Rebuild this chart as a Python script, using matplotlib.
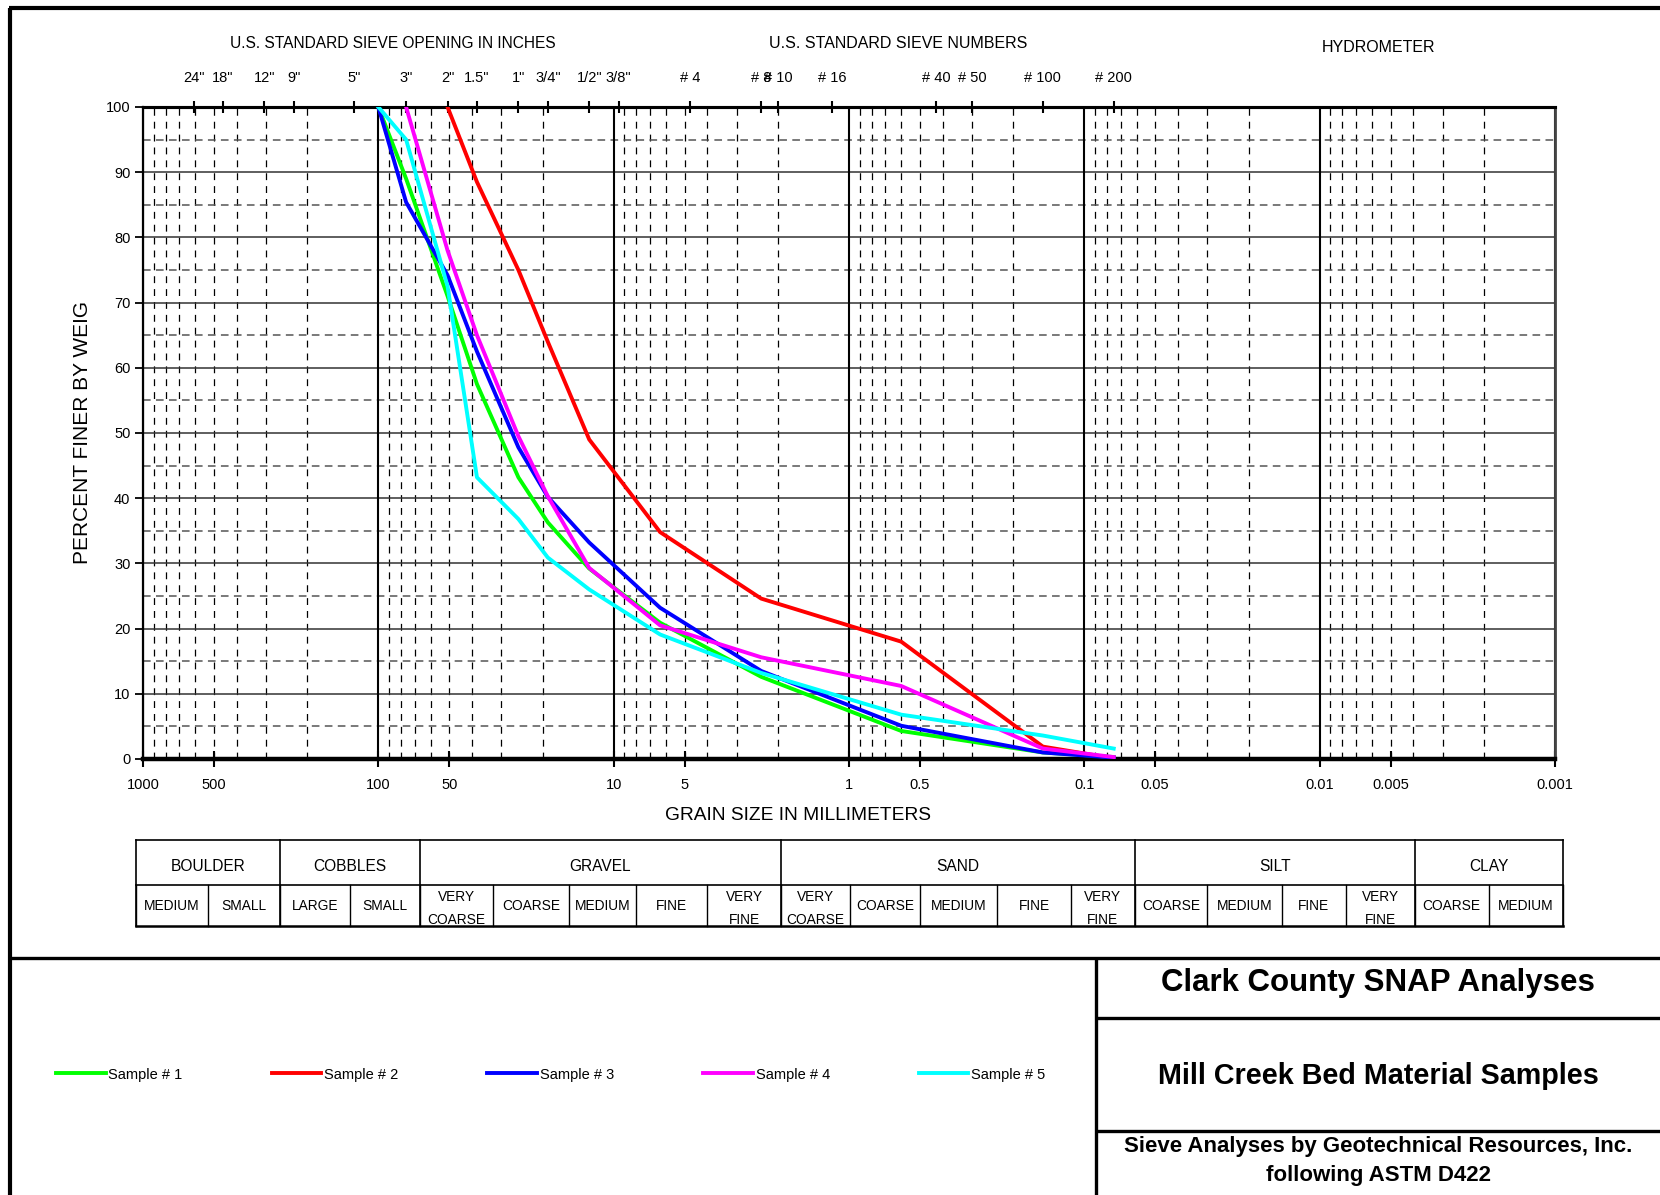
import matplotlib
matplotlib.use('Agg')
import matplotlib.pyplot as plt
from matplotlib.ticker import NullLocator
import numpy as np

plt.rcParams['font.family'] = ['Liberation Sans', 'DejaVu Sans']

# ---- data ----
sizes_mm = [100, 76.2, 50.8, 38.1, 25.4, 19.05, 12.7, 6.35, 2.36, 0.6, 0.15, 0.075]
nan = np.nan
sample_1 = [100, 89, 71, 57.5, 43.2, 36.3, 29.2, 20.9, 12.6, 4.3, 1.0, 0.3]
sample_2 = [nan, nan, 100, 88.5, 75, 64, 49, 34.8, 24.6, 18, 1.9, 0.1]
sample_3 = [100, 85.4, 74.2, 62.5, 47.8, 40.2, 33.2, 23.2, 13.5, 5.1, 1.0, 0.2]
sample_4 = [nan, 100, 78, 65, 49.5, 40.3, 29.3, 20.5, 15.6, 11.2, 1.6, 0.3]
sample_5 = [100, 95, 72.5, 43.2, 36.8, 30.9, 26.0, 19.1, 13.2, 6.8, 3.6, 1.6]
sample_names = ['Sample # 1', 'Sample # 2', 'Sample # 3', 'Sample # 4', 'Sample # 5']

sieve_mm = [609.6, 457.2, 304.8, 228.6, 127, 76.2, 50.8, 38.1, 25.4, 19.05, 12.7, 9.525,
            4.75, 2.36, 2.0, 1.18, 0.425, 0.3, 0.15, 0.075]
sieve_labels = ['24"', '18"', '12"', '9"', '5"', '3"', '2"', '1.5"', '1"', '3/4"', '1/2"', '3/8"',
                '# 4', '# 8', '# 10', '# 16', '# 40', '# 50', '# 100', '# 200']

x_ticks = [1000, 500, 100, 50, 10, 5, 1, 0.5, 0.1, 0.05, 0.01, 0.005, 0.001]
x_tick_labels = ['1000', '500', '100', '50', '10', '5', '1', '0.5', '0.1', '0.05', '0.01', '0.005', '0.001']

class_names = ['BOULDER', 'COBBLES', 'GRAVEL', 'SAND', 'SILT', 'CLAY']
sub_names = ['MEDIUM', 'SMALL', 'LARGE', 'SMALL', 'VERY\nCOARSE', 'COARSE', 'MEDIUM', 'FINE',
             'VERY\nFINE', 'VERY\nCOARSE', 'COARSE', 'MEDIUM', 'FINE', 'VERY\nFINE', 'COARSE',
             'MEDIUM', 'FINE', 'VERY\nFINE', 'COARSE', 'MEDIUM']

# ---- layout (pixels) ----
W, H = 1660, 1195
class_edges = [135.5, 280, 420, 781, 1134.5, 1414.8, 1563]
sub_edges = [135.5, 208, 280, 350, 420, 493, 569, 636, 707, 781, 850, 920, 997, 1071,
             1134.5, 1207, 1282, 1345.6, 1414.8, 1488.5, 1563]
tab_top, tab_mid, tab_bot = 839.5, 885, 926

fig = plt.figure(figsize=(W / 100, H / 100), dpi=100)

# overlay in pixel coords for frame, table and titles
fa = fig.add_axes([0, 0, 1, 1])
fa.set_xlim(0, W)
fa.set_ylim(H, 0)
fa.axis('off')

# frame
fa.plot([9, W], [8, 8], color='k', lw=3, solid_capstyle='butt')
fa.plot([10, 10], [8, H], color='k', lw=3, solid_capstyle='butt')
fa.plot([10, W], [958, 958], color='k', lw=2.4, solid_capstyle='butt')
fa.plot([1096, 1096], [958, H], color='k', lw=2.4, solid_capstyle='butt')
fa.plot([1096, W], [1017.5, 1017.5], color='k', lw=2.4, solid_capstyle='butt')
fa.plot([1096, W], [1130.7, 1130.7], color='k', lw=2.4, solid_capstyle='butt')

# classification table
fa.plot([sub_edges[0], sub_edges[-1]], [tab_top, tab_top], color='k', lw=1.2)
fa.plot([sub_edges[0], sub_edges[-1]], [tab_mid, tab_mid], color='k', lw=1.2)
fa.plot([sub_edges[0], sub_edges[-1]], [tab_bot, tab_bot], color='k', lw=1.8)
for e in class_edges:
    fa.plot([e, e], [tab_top, tab_bot], color='k', lw=1.2)
for e in sub_edges:
    fa.plot([e, e], [tab_mid, tab_bot], color='k', lw=1.0)
for i, name in enumerate(class_names):
    fa.text((class_edges[i] + class_edges[i + 1]) / 2, 866, name, ha='center', va='center', fontsize=11.2)
for i, name in enumerate(sub_names):
    yy = 908.5 if '\n' in name else 906
    fa.text((sub_edges[i] + sub_edges[i + 1]) / 2, yy, name, ha='center', va='center',
            fontsize=9.9, linespacing=1.75)

# headings
fa.text(393, 43.5, 'U.S. STANDARD SIEVE OPENING IN INCHES', ha='center', va='center', fontsize=11.2)
fa.text(898, 43.5, 'U.S. STANDARD SIEVE NUMBERS', ha='center', va='center', fontsize=11.5)
fa.text(1378, 47.5, 'HYDROMETER', ha='center', va='center', fontsize=11.5)
fa.text(82, 432, 'PERCENT FINER BY WEIG', ha='center', va='center', rotation=90, fontsize=15)
fa.text(798, 815, 'GRAIN SIZE IN MILLIMETERS', ha='center', va='center', fontsize=13.8)

# title block
fa.text(1378, 982.5, 'Clark County SNAP Analyses', ha='center', va='center', fontsize=22.5, fontweight='bold')
fa.text(1378, 1075.5, 'Mill Creek Bed Material Samples', ha='center', va='center', fontsize=20.7, fontweight='bold')
fa.text(1378, 1146.5, 'Sieve Analyses by Geotechnical Resources, Inc.', ha='center', va='center',
        fontsize=16, fontweight='bold')
fa.text(1378, 1175, 'following ASTM D422', ha='center', va='center', fontsize=16, fontweight='bold')

# ---- main chart ----
ax = fig.add_axes([143 / W, 1 - 759 / H, (1555 - 143) / W, (759 - 107) / H])
ax.set_xscale('log')
ax.set_xlim(1000, 0.001)
ax.set_ylim(0, 100)

decades = [1000, 100, 10, 1, 0.1, 0.01, 0.001]
for d in decades[1:]:
    for k in range(2, 10):
        ax.axvline(k * d, color='k', lw=0.9, ls=(0, (5.5, 4.8)), zorder=1)
for d in decades:
    ax.axvline(d, color='k', lw=1.5, zorder=1.5)
for p in range(10, 100, 10):
    ax.axhline(p, color='#333333', lw=1.1, zorder=1)
for p in range(5, 100, 10):
    ax.axhline(p, color='#555555', lw=1.1, ls=(0, (5, 3.5)), zorder=1)

colors = ['#00ff00', '#ff0000', '#0000ff', '#ff00ff', '#00ffff']
for vals, c, name in zip([sample_1, sample_2, sample_3, sample_4, sample_5], colors, sample_names):
    ax.plot(sizes_mm, vals, color=c, lw=2.8, label=name, zorder=3)

ax.set_xticks(x_ticks, labels=x_tick_labels)
ax.xaxis.set_minor_locator(NullLocator())
ax.set_yticks(range(0, 101, 10))
ax.tick_params(axis='x', direction='inout', length=11, width=1.5, pad=8, labelsize=10.5)
ax.tick_params(axis='y', direction='out', length=6, width=1.3, pad=3, labelsize=10.5)

ax.spines['top'].set_linewidth(2.2)
ax.spines['bottom'].set_linewidth(3.2)
ax.spines['left'].set_linewidth(1.6)
ax.spines['right'].set_linewidth(2)
ax.spines['right'].set_color('#444444')

sec = ax.secondary_xaxis('top')
sec.set_xticks(sieve_mm, labels=sieve_labels)
sec.xaxis.set_minor_locator(NullLocator())
sec.tick_params(direction='inout', length=8, width=1.5, pad=11.5, labelsize=10.5)
sec.spines['top'].set_linewidth(2.2)

# legend in lower-left panel
fig.legend(loc='center left', bbox_to_anchor=(56 / W, 1 - 1074.6 / H), ncol=5, frameon=False,
           fontsize=10.5, handlelength=3.4, handletextpad=0.2, columnspacing=6.1,
           borderpad=0, borderaxespad=0)

fig.savefig('out.png', dpi=100)
